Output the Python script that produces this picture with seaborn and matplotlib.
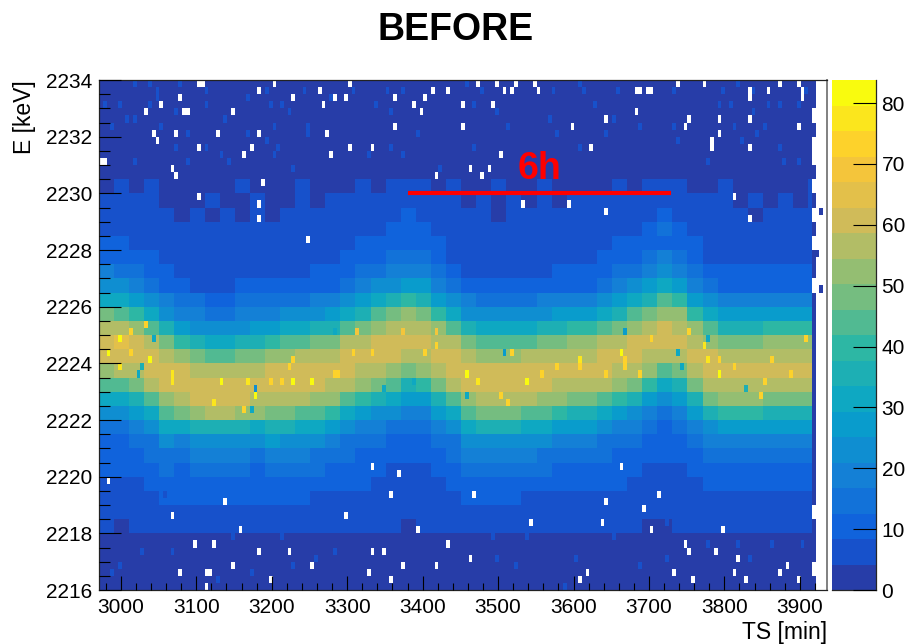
import numpy as np
import pandas as pd
import matplotlib
matplotlib.use("Agg")
import matplotlib.pyplot as plt
from matplotlib.colors import ListedColormap
import seaborn as sns

# =========================
# 1) DATA
# =========================
ts_start = 2971
ts_bin = 5
e_top = 2234
e_bin = 0.25
z_max = 83.8

# counts per 20 min x 0.5 keV block, top row is 2233.75 keV
counts = [
    [3]*48,
    [3]*48,
    [3]*48,
    [3]*48,
    [3]*48,
    [3]*48,
    [3]*48,
    [4,5,4,5,3,4,3,4,3,5,3,4,3,5,3,4,3,5,4,5,5,5,4,5,3,4,5,4,3,5,3,4,3,4,5,4,5,5,5,4,3,5,3,4,3,4,3,5],
    [5,5,5,5,4,4,4,5,4,4,5,4,4,5,4,5,5,5,5,6,7,7,5,5,4,5,4,5,4,5,4,5,5,5,5,5,6,7,6,5,5,5,4,5,4,5,4,5],
    [6,6,6,5,5,4,5,4,5,4,5,4,5,5,5,5,5,6,6,7,9,8,6,5,5,5,4,5,5,5,5,5,5,5,6,6,8,9,8,6,5,5,5,4,5,5,5,5],
    [7,7,7,6,5,5,5,5,5,5,5,5,5,5,5,6,6,7,7,9,12,11,7,6,5,5,5,5,5,5,6,6,6,6,6,7,10,13,10,7,6,5,5,5,6,5,6,5],
    [9,9,8,7,6,6,5,5,6,5,6,6,6,6,6,6,8,9,10,10,11,11,9,8,6,6,5,6,6,6,6,7,7,8,9,10,11,12,11,9,6,6,6,6,7,6,6,6],
    [12,11,10,9,7,7,6,6,6,7,6,7,7,7,7,8,9,10,11,13,15,14,10,8,7,6,6,6,7,7,7,8,8,9,10,11,13,17,15,10,8,7,8,7,8,7,8,7],
    [17,16,13,11,9,8,7,7,7,7,8,8,8,8,9,9,11,13,15,17,20,19,14,11,8,8,7,8,8,8,9,9,10,11,13,15,18,23,20,13,10,9,9,9,9,9,9,9],
    [25,23,18,14,11,9,8,8,8,9,9,10,10,10,11,11,15,18,21,25,28,26,19,15,11,10,10,9,10,10,11,12,12,15,18,21,26,32,28,19,13,11,11,11,12,12,12,12],
    [33,32,28,23,17,14,13,12,12,13,14,14,15,16,17,18,23,26,30,34,39,37,28,23,17,15,15,15,16,17,18,19,19,23,26,30,37,45,39,28,21,18,18,18,19,19,19,19],
    [47,45,40,32,25,20,17,16,16,17,18,20,21,23,25,26,32,37,42,47,51,49,39,32,25,21,21,21,23,25,26,28,28,32,37,42,49,53,51,39,30,26,26,26,28,28,28,28],
    [56,55,51,45,34,28,25,23,23,25,26,28,30,32,34,37,45,49,53,56,58,57,51,45,34,30,30,30,32,34,37,39,39,45,49,53,57,60,58,51,43,37,37,37,39,39,39,39],
    [62,63,60,55,47,39,34,32,32,34,37,39,43,45,47,49,55,57,60,60,60,60,58,55,47,43,43,43,45,47,49,51,51,55,57,60,60,60,60,58,53,49,49,49,51,51,51,51],
    [62,62,60,60,56,51,47,45,45,47,49,51,53,55,56,58,60,60,60,60,57,58,60,60,56,53,53,53,55,56,58,58,58,60,60,60,58,55,57,60,60,58,58,58,58,58,58,58],
    [53,55,57,60,62,60,56,55,55,56,58,60,60,62,62,62,60,58,56,53,49,51,57,60,62,60,60,60,62,62,62,62,62,60,58,56,51,45,49,57,62,62,62,62,62,62,62,60],
    [43,45,49,55,60,62,62,62,62,62,62,62,62,62,60,58,55,51,47,43,37,39,49,55,60,62,62,62,62,60,58,57,57,55,51,47,39,32,37,49,56,58,58,58,57,57,57,57],
    [30,32,37,45,53,57,60,60,60,60,58,57,56,55,53,51,45,39,34,30,26,28,37,45,53,56,56,56,55,53,51,49,49,45,39,34,28,23,26,37,47,51,51,51,49,49,49,49],
    [21,23,26,32,43,49,53,55,55,53,51,49,47,45,43,39,32,28,25,21,18,20,26,32,43,47,47,47,45,43,39,37,37,32,28,25,20,16,18,26,34,39,39,39,37,37,37,37],
    [15,16,18,23,30,30,34,36,36,34,32,37,34,32,30,28,23,20,17,15,14,14,18,23,30,34,34,34,32,30,28,26,26,23,20,17,14,12,14,18,25,28,28,28,26,26,26,26],
    [12,12,14,16,21,20,22,24,24,22,21,26,25,23,21,20,16,14,13,12,11,12,14,16,21,25,25,25,23,21,20,18,18,16,14,13,12,10,12,14,17,20,20,20,18,18,18,18],
    [10,11,12,13,16,15,17,18,18,17,15,20,18,17,16,15,13,12,11,10,9,10,12,13,17,19,19,19,17,16,15,14,14,13,12,11,10,9,10,12,14,15,15,15,14,14,14,14],
    [9,9,10,11,13,12,13,14,14,13,12,15,14,13,13,12,11,10,10,8,7,8,10,11,13,14,14,14,13,13,12,11,11,11,10,10,8,7,8,10,11,12,12,12,11,11,11,11],
    [7,8,8,9,10,9,10,11,11,10,10,12,11,11,10,10,9,9,8,7,6,7,8,9,10,11,11,11,10,10,9,9,9,9,9,8,7,6,7,8,9,9,10,9,9,9,9,9],
    [6,6,7,7,9,9,10,10,10,10,10,9,9,9,8,8,8,7,7,6,6,6,7,8,9,9,9,9,8,8,8,7,8,7,7,7,6,5,6,7,8,8,8,8,8,7,8,7],
    [5,6,5,6,7,7,8,8,8,8,8,7,7,7,7,6,7,6,6,5,5,5,6,6,7,7,7,7,7,7,6,6,6,6,6,6,5,5,5,5,6,6,7,6,6,6,6,6],
    [5,4,5,5,6,6,7,6,7,6,6,6,6,5,6,6,5,5,5,5,4,5,5,5,5,6,5,6,5,5,6,5,5,5,5,5,4,4,5,5,5,5,5,5,5,5,5,5],
    [3]*48,
    [3]*48,
    [3]*48,
    [3]*48,
]

# single brighter bins on the dark background
light_ts = [3016,3036,3076,3049,3049,3111,3191,3241,3167,3280,3197,3211,3036,2976,2996,3115,3074,3221,
            3009,3019,3054,3138,3204,3246,3089,3167,3246,2986,3072,3111,3193,3207,3131,3016,3088,3141,3201,3228,
            3354,3310,3374,3458,3480,3572,3608,3612,3658,3731,3340,3356,3469,3498,3628,3731,3515,3568,3688,3652,
            3393,3578,3641,3738,3359,3466,3608,3326,3374,3423,
            3820,3796,3837,3910,3791,3807,3856,3900,3837,3873,3811,3853,3843,3823,3873,3777,3880,3900,
            2986,2996,3016,3043,3035,2990,3029,3127,3069,3056,3148,3175,3211,3228,
            3281,3260,3313,3427,3458,3493,3538,3498,3525,3604,3654,3687,3725,3725,3586,3776,3833,3780,3820,3903,3864]
light_e = [2233.9,2233.9,2233.9,2233.6,2233.4,2233.6,2233.6,2233.6,2233.4,2233.4,2233.1,2233.1,2233.1,2233.1,2233.1,2233.1,2232.9,2232.9,
           2232.6,2232.6,2232.4,2232.6,2232.4,2232.1,2232.1,2232.1,2232.4,2232.4,2231.6,2231.6,2231.9,2231.6,2231.4,2231.1,2231.1,2231.1,2231.4,2230.9,
           2233.7,2233.6,2233.6,2233.9,2233.6,2233.6,2233.9,2233.6,2233.6,2233.6,2233.1,2232.9,2233.1,2232.9,2233.1,2232.4,2232.4,2232.6,2232.4,2232.6,
           2232.1,2232.1,2232.1,2231.9,2231.6,2231.6,2231.6,2231.4,2231.4,2231.0,
           2233.9,2233.6,2233.6,2233.6,2233.1,2233.1,2233.1,2233.1,2232.9,2233.1,2232.4,2232.4,2232.1,2231.9,2231.6,2231.1,2231.1,2231.1,
           2216.6,2216.9,2218.1,2218.4,2219.2,2218.8,2217.3,2216.4,2217.3,2219.5,2217.9,2216.6,2218.0,2216.9,
           2217.4,2217.2,2218.4,2218.4,2218.2,2217.9,2218.0,2217.2,2216.9,2217.2,2217.9,2216.9,2218.4,2217.2,2216.2,2218.4,2217.2,2217.7,2217.7,2217.7,2217.7]

# hot bins inside the band
hot_ts = [2982,2996,3037,3068,3068,3135,3176,3164,3122,3252,3227,3170,2996,3012,3032,3015,3228,3221,3211,3197,
          3307,3333,3405,3417,3458,3472,3538,3505,3515,3578,3559,3282,3290,3372,3313,3417,3518,
          3607,3661,3666,3751,3705,3771,3778,3792,3812,3864,3846,3852,3906,3607,3666,3644,3791,3888,3688]
hot_e = [2224.4,2224.9,2224.2,2223.7,2223.4,2223.4,2222.9,2222.4,2222.6,2223.4,2223.4,2223.4,2223.9,2224.4,2225.4,2225.1,2224.2,2223.9,2223.4,2223.4,
         2224.4,2224.4,2224.4,2224.6,2223.7,2223.4,2223.4,2222.9,2222.6,2223.9,2223.7,2223.7,2223.7,2225.2,2225.2,2225.2,2224.4,
         2224.2,2224.4,2224.2,2225.2,2224.9,2224.6,2224.2,2224.2,2223.9,2224.2,2222.9,2223.4,2224.9,2223.9,2223.9,2223.7,2223.7,2223.7,2223.7]
hot_counts = [82,82,82,76,76,80,82,74,76,82,80,76,76,72,72,72,74,72,72,72,
              72,72,74,72,80,76,82,72,72,72,72,72,72,70,70,70,72,
              76,80,74,72,72,76,76,74,74,72,74,74,72,72,72,72,80,72,72]

# cold bins inside the band
cold_ts = [3025,3180,3043,3172,3028,3506,3347,3387,3458,3284,3738,3743,3828,3670,3778]
cold_e = [2223.7,2223.2,2224.9,2222.4,2223.9,2224.4,2223.1,2223.4,2222.8,2225.2,2224.4,2223.9,2223.2,2225.2,2224.9]
cold_counts = [30,25,30,30,35,26,30,30,30,30,32,30,34,28,30]

# last thin strip of filled bins at the right end, 0 = empty
edge_counts = [3,3,0,3,0,0,3,0,3,0,3,0,3,3,0,3,3,3,3,3,4,4,3,3,3,3,3,3,3,3,0,3,3,3,0,3]
stray_ts = [3927, 3922, 3927]
stray_e = [2229.4, 2227.9, 2226.6]

# empty bins (white cells)
empty_ts = [3101,3106,3201,3182,3077,3227,3262,3282,3052,3266,3032,3081,3086,3147,3041,3046,3072,3127,3182,3272,
            3102,3172,3162,3277,2974,2979,3066,3072,3187,3102,3182,3182,3246,
            3302,3472,3497,3522,3547,3738,3412,3432,3507,3517,3552,3682,3688,3697,3702,3297,3362,3403,3387,3452,3493,
            3396,3682,3643,3752,3362,3452,3597,3747,3302,3333,3623,3502,3462,3488,3477,3417,3533,3592,3643,
            3774,3872,3898,3832,3832,3857,3902,3902,3792,3832,3898,3792,3783,3783,3832,3812,3832,
            2982,3137,3066,3156,3097,3122,3182,3221,3147,3077,3114,3119,3196,3111,
            3333,3662,3367,3356,3468,3711,3643,3297,3693,3542,3637,3392,3702,3432,3747,3333,3347,3752,3462,3252,3372,
            3417,3327,3617,3733,3356,3607,3758,3796,3787,3817,3882,3812,3873,3828,3898]
empty_e = [2233.9,2233.9,2233.9,2233.6,2233.4,2233.4,2233.6,2233.4,2233.1,2233.1,2232.9,2232.9,2232.9,2232.9,2232.1,2231.9,2232.1,2232.1,2232.1,2232.1,
           2231.6,2231.6,2231.4,2231.4,2231.1,2231.1,2230.9,2230.6,2230.4,2229.9,2229.6,2229.1,2228.4,
           2233.9,2233.9,2233.9,2233.9,2233.9,2233.9,2233.6,2233.6,2233.6,2233.6,2233.6,2233.6,2233.6,2233.6,2233.6,2233.4,2233.4,2233.4,2233.1,2233.1,2233.1,
           2232.9,2232.9,2232.6,2232.6,2232.4,2232.4,2232.4,2232.4,2231.6,2231.6,2231.6,2231.4,2230.9,2230.9,2230.6,2230.6,2229.6,2229.6,2229.4,
           2233.9,2233.9,2233.9,2233.6,2233.4,2233.6,2233.6,2233.4,2232.6,2232.6,2232.4,2232.1,2231.9,2231.6,2231.6,2229.9,2229.1,
           2219.9,2219.2,2218.7,2218.2,2217.7,2217.7,2217.4,2217.4,2216.9,2216.6,2216.6,2216.6,2216.4,2216.1,
           2220.4,2220.4,2220.2,2219.4,2219.4,2219.4,2219.1,2218.6,2218.9,2218.4,2218.4,2218.2,2218.2,2217.7,2217.7,2217.4,2217.4,2217.4,2217.2,2216.9,2216.9,
           2216.9,2216.6,2216.6,2216.6,2216.4,2216.4,2216.4,2218.2,2217.4,2217.2,2216.9,2216.6,2216.6,2216.4,2216.4]

x_ticks = list(range(3000, 4000, 100))
y_ticks = list(range(2216, 2236, 2))
z_ticks = list(range(0, 90, 10))
red_line_ts = [3380, 3729]
red_line_e = [2230, 2230]

# ROOT kBird palette stops
bird = [(0.2082,0.1664,0.5293),(0.0592,0.3599,0.8684),(0.0780,0.5041,0.8385),(0.0232,0.6419,0.7914),
        (0.1802,0.7178,0.6425),(0.5301,0.7492,0.4662),(0.8186,0.7328,0.3499),(0.9956,0.7862,0.1968),(0.9764,0.9832,0.0539)]

# =========================
# 2) BUILD THE BIN TABLE
# =========================
n_rows = 72
n_cols = 193
grid = np.full((n_rows, n_cols), np.nan)
blocks = np.repeat(np.repeat(np.array(counts, dtype=float), 2, axis=0), 4, axis=1)
grid[:, :189] = blocks[:, :189]
grid[:, 189] = np.repeat(edge_counts, 2)
grid[grid == 0] = np.nan


def col_of(ts):
    return int((ts - ts_start) / ts_bin)


def row_of(e):
    return int((e_top - e) / e_bin)


for t, e in zip(light_ts, light_e):
    grid[row_of(e), col_of(t)] = 6
for t, e, c in zip(hot_ts, hot_e, hot_counts):
    grid[row_of(e), col_of(t)] = c
for t, e, c in zip(cold_ts, cold_e, cold_counts):
    grid[row_of(e), col_of(t)] = c
for t, e in zip(stray_ts, stray_e):
    grid[row_of(e), col_of(t)] = 3
for t, e in zip(empty_ts, empty_e):
    grid[row_of(e), col_of(t)] = np.nan

df = pd.DataFrame(grid,
                  index=e_top - e_bin * (np.arange(n_rows) + 0.5),
                  columns=ts_start + ts_bin * (np.arange(n_cols) + 0.5))

# =========================
# 3) PLOT
# =========================
sns.set_style("ticks")
plt.rcParams["font.family"] = ["Liberation Sans", "DejaVu Sans"]
plt.rcParams["text.color"] = "black"
plt.rcParams["xtick.labelcolor"] = "black"
plt.rcParams["ytick.labelcolor"] = "black"

W, H = 905, 644
fig = plt.figure(figsize=(W / 100, H / 100), dpi=100)
ax = fig.add_axes([99 / W, 1 - 590 / H, 728 / W, 510 / H])
cax = fig.add_axes([832 / W, 1 - 590 / H, 44 / W, 510 / H])

# 20 contour colours, taken from the palette at the top of each level
fine_pal = sns.blend_palette(bird, n_colors=256)
cmap = ListedColormap([fine_pal[int((i + 1) / 20 * 255)] for i in range(20)])
sns.heatmap(df, ax=ax, cbar_ax=cax, cmap=cmap, vmin=0, vmax=z_max, linewidths=0,
            xticklabels=False, yticklabels=False)

# heatmap axes run in bin numbers, so ticks are placed in bin numbers too
ax.set_axisbelow(False)
cax.set_axisbelow(False)
ax.set_xlim(0, n_cols)
ax.set_ylim(n_rows, 0)
ax.set_xticks([(t - ts_start) / ts_bin for t in x_ticks])
ax.set_xticklabels(x_ticks)
ax.set_xticks([(t - ts_start) / ts_bin for t in range(2980, 3940, 20)], minor=True)
ax.set_yticks([(e_top - e) / e_bin for e in y_ticks])
ax.set_yticklabels(y_ticks)
ax.set_yticks(np.arange(0, n_rows + 1, 2), minor=True)
ax.tick_params(axis="x", which="major", direction="in", length=10, width=0.8, labelsize=15, pad=6, color="black",
               bottom=True, labelbottom=True, labelcolor="black")
ax.tick_params(axis="x", which="minor", direction="in", length=5, width=0.8, color="black", bottom=True)
ax.tick_params(axis="y", which="major", direction="in", length=16, width=0.8, labelsize=15, pad=5, color="black",
               left=True, labelleft=True, labelrotation=0, labelcolor="black")
ax.tick_params(axis="y", which="minor", direction="in", length=8, width=0.8, color="black", left=True)
ax.set_xlabel("")
ax.set_ylabel("")
for side in ["left", "bottom", "top", "right"]:
    ax.spines[side].set_visible(True)
    ax.spines[side].set_linewidth(0.9)
    ax.spines[side].set_color("#222222")
ax.spines["right"].set_color("#808080")
ax.spines["right"].set_linewidth(1.4)

# colour bar
cbar = ax.collections[0].colorbar
cbar.set_ticks(z_ticks)
cax.tick_params(axis="y", which="both", direction="in", length=16.5, width=0.8, labelsize=15, pad=4, color="black",
                right=True, labelright=True, labelcolor="black")
cax.minorticks_off()
cbar.outline.set_visible(False)
cax.spines["right"].set_visible(True)
cax.spines["right"].set_linewidth(0.9)
cax.spines["bottom"].set_visible(True)
cax.spines["bottom"].set_linewidth(0.9)

# 6h marker
ax.plot([(t - ts_start) / ts_bin for t in red_line_ts], [(e_top - e) / e_bin for e in red_line_e],
        color="#ff0000", lw=3, solid_capstyle="butt")
ax.text((3555 - ts_start) / ts_bin, (e_top - 2230.85) / e_bin, "6h", color="#ff0000", fontsize=27,
        fontweight="bold", ha="center", va="center")

fig.text(456 / W, 1 - 30 / H, "BEFORE", fontsize=27, fontweight="bold", ha="center", va="center", color="black")
fig.text(827 / W, 1 - 632 / H, "TS [min]", fontsize=16.5, ha="right", va="center", color="black")
fig.text(25 / W, 1 - 80 / H, "E [keV]", fontsize=16.5, rotation=90, ha="center", va="top", color="black")

fig.savefig("out.png", dpi=100)
